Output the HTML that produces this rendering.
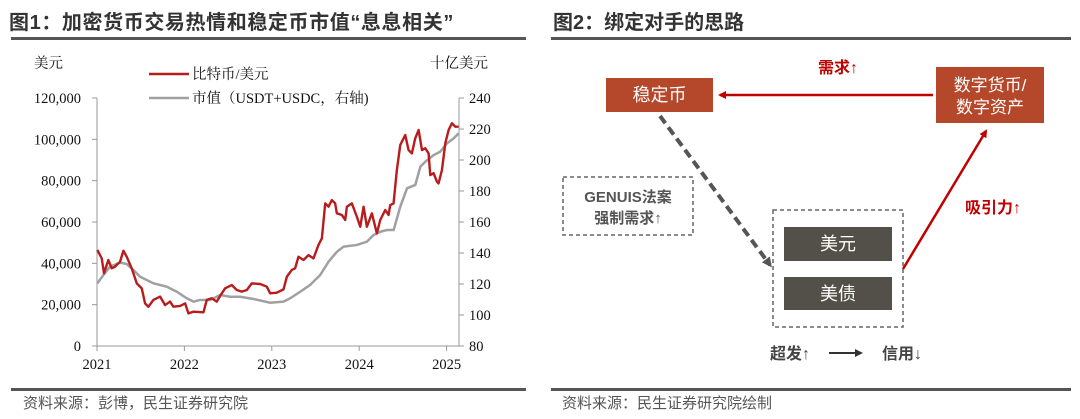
<!DOCTYPE html>
<html><head><meta charset="utf-8">
<style>
html,body{margin:0;padding:0;background:#fff;}
body{width:1080px;height:419px;position:relative;overflow:hidden;font-family:"Liberation Sans","Noto Sans CJK SC",sans-serif;}
.t{position:absolute;white-space:nowrap;}
.title{font-size:20px;font-weight:bold;color:#333;top:6px;}
.hr{position:absolute;height:3px;background:#555;}
.src{font-size:15px;color:#555;top:392px;}
</style></head>
<body>
<div class="t title" style="left:9px;letter-spacing:0.6px">图1：加密货币交易热情和稳定币市值“息息相关”</div>
<div class="t title" style="left:553px">图2：绑定对手的思路</div>
<div class="hr" style="left:11px;width:515px;top:37px"></div>
<div class="hr" style="left:551px;width:520px;top:37px"></div>
<div class="hr" style="left:11px;width:515px;top:388px"></div>
<div class="hr" style="left:551px;width:520px;top:388px"></div>
<div class="t src" style="left:23px">资料来源：彭博，民生证券研究院</div>
<div class="t src" style="left:562px">资料来源：民生证券研究院绘制</div>

<svg id="chart" width="540" height="419" style="position:absolute;left:0;top:0"></svg>

<svg width="1080" height="419" style="position:absolute;left:0;top:0">
<defs>
<marker id="ar" markerWidth="8" markerHeight="8" refX="6" refY="4" orient="auto" markerUnits="userSpaceOnUse"><path d="M0,0 L8,4 L0,8 z" fill="#c00000"/></marker>
<marker id="ag" markerWidth="10" markerHeight="10" refX="7" refY="5" orient="auto" markerUnits="userSpaceOnUse"><path d="M0,0 L10,5 L0,10 z" fill="#555"/></marker>
<marker id="ak" markerWidth="8" markerHeight="8" refX="6" refY="4" orient="auto" markerUnits="userSpaceOnUse"><path d="M0,0 L8,4 L0,8 z" fill="#333"/></marker>
</defs>
<line x1="933" y1="95" x2="720" y2="95" stroke="#c00000" stroke-width="2.5" marker-end="url(#ar)"/>
<line x1="660" y1="116" x2="770" y2="265" stroke="#555" stroke-width="4" stroke-dasharray="9,5" marker-end="url(#ag)"/>
<line x1="903" y1="269" x2="986" y2="131" stroke="#c00000" stroke-width="2.5" marker-end="url(#ar)"/>
<rect x="606" y="78" width="107" height="34" fill="#b5472a"/>
<text x="659.5" y="101" fill="#fff" font-size="18" text-anchor="middle" font-family="Liberation Sans, Noto Sans CJK SC, sans-serif">稳定币</text>
<rect x="936" y="67" width="108" height="56" fill="#b5472a"/>
<text x="990" y="91" fill="#fff" font-size="17" text-anchor="middle" font-family="Liberation Sans, Noto Sans CJK SC, sans-serif">数字货币/</text>
<text x="990" y="113" fill="#fff" font-size="17" text-anchor="middle" font-family="Liberation Sans, Noto Sans CJK SC, sans-serif">数字资产</text>
<text x="838" y="73" fill="#c00000" font-size="16" font-weight="bold" text-anchor="middle" font-family="Liberation Sans, Noto Sans CJK SC, sans-serif">需求↑</text>
<rect x="563" y="177" width="130" height="58" fill="none" stroke="#666" stroke-width="1.5" stroke-dasharray="4,3"/>
<text x="628" y="202" fill="#555" font-size="15" font-weight="bold" text-anchor="middle" font-family="Liberation Sans, Noto Sans CJK SC, sans-serif">GENUIS法案</text>
<text x="628" y="223" fill="#555" font-size="15" font-weight="bold" text-anchor="middle" font-family="Liberation Sans, Noto Sans CJK SC, sans-serif">强制需求↑</text>
<rect x="773" y="210" width="130" height="117" fill="none" stroke="#666" stroke-width="1.5" stroke-dasharray="4,3"/>
<rect x="784" y="227" width="108" height="34" fill="#525048"/>
<text x="838" y="250" fill="#fff" font-size="18" text-anchor="middle" font-family="Liberation Sans, Noto Sans CJK SC, sans-serif">美元</text>
<rect x="784" y="277" width="108" height="33" fill="#525048"/>
<text x="838" y="300" fill="#fff" font-size="18" text-anchor="middle" font-family="Liberation Sans, Noto Sans CJK SC, sans-serif">美债</text>
<text x="993" y="213" fill="#c00000" font-size="16" font-weight="bold" text-anchor="middle" font-family="Liberation Sans, Noto Sans CJK SC, sans-serif">吸引力↑</text>
<text x="790" y="359" fill="#444" font-size="16" font-weight="bold" text-anchor="middle" font-family="Liberation Sans, Noto Sans CJK SC, sans-serif">超发↑</text>
<line x1="829" y1="353" x2="861" y2="353" stroke="#333" stroke-width="2" marker-end="url(#ak)"/>
<text x="902" y="359" fill="#444" font-size="16" font-weight="bold" text-anchor="middle" font-family="Liberation Sans, Noto Sans CJK SC, sans-serif">信用↓</text>
</svg>

<script>
const btcDates=[2021.004,2021.054,2021.080,2021.130,2021.168,2021.206,2021.264,2021.302,2021.340,2021.397,2021.455,2021.512,2021.550,2021.588,2021.645,2021.722,2021.779,2021.836,2021.874,2021.951,2022.008,2022.046,2022.103,2022.218,2022.256,2022.313,2022.370,2022.428,2022.466,2022.542,2022.599,2022.657,2022.714,2022.771,2022.867,2022.943,2022.981,2023.057,2023.134,2023.172,2023.229,2023.267,2023.305,2023.363,2023.420,2023.477,2023.534,2023.573,2023.611,2023.649,2023.687,2023.725,2023.744,2023.802,2023.840,2023.859,2023.916,2023.973,2024.012,2024.050,2024.088,2024.145,2024.202,2024.241,2024.298,2024.336,2024.355,2024.393,2024.431,2024.470,2024.527,2024.565,2024.603,2024.641,2024.680,2024.718,2024.756,2024.794,2024.813,2024.851,2024.889,2024.908,2024.947,2024.985,2025.023,2025.061,2025.099,2025.137];
const btcValues=[46500,42400,35200,41600,37600,38400,40800,46100,43200,37600,30300,27900,20600,19000,22300,23900,19800,21500,19000,19400,20600,15800,16600,16300,22300,23100,21500,25500,27900,29500,27100,26300,27100,30300,30000,28700,25500,25800,27400,33500,36800,37600,43200,41600,44000,42400,48900,52100,69000,67400,70600,69000,64200,63400,61000,67400,69000,62600,57700,67400,57700,64200,54500,61000,65800,63400,68200,69000,85200,97300,102100,94800,93200,100500,104500,94800,95700,93200,82700,83600,79500,78700,85200,98100,104500,107800,106100,106100];
const capDates=[2021.004,2021.073,2021.149,2021.264,2021.340,2021.417,2021.493,2021.646,2021.798,2021.913,2022.027,2022.104,2022.180,2022.294,2022.409,2022.524,2022.638,2022.791,2022.982,2023.134,2023.210,2023.325,2023.439,2023.554,2023.649,2023.745,2023.821,2023.974,2024.088,2024.165,2024.241,2024.317,2024.394,2024.470,2024.547,2024.642,2024.700,2024.757,2024.852,2024.929,2025.005,2025.082,2025.137];
const capValues=[120.4,125.8,131.2,133.8,132.9,129.0,124.7,120.4,118.3,115.0,110.8,108.6,109.7,109.7,112.9,111.8,111.8,110.3,107.9,108.6,110.8,115.0,119.4,125.8,134.4,140.8,144.1,145.2,147.3,151.6,153.7,154.8,154.8,169.9,181.7,183.9,195.7,198.9,203.2,205.4,210.8,214.0,217.2];
const leftTicks=[0,20000,40000,60000,80000,100000,120000];
const rightTicks=[80,100,120,140,160,180,200,220,240];
const yearTicks=[2021,2022,2023,2024,2025];

const NS='http://www.w3.org/2000/svg';
const svg=document.getElementById('chart');
const X0=97,X1=459,Y0=346,Y1=98;
const xs=d=>X0+(d-2021)*87.4;
const yl=v=>Y0-(v/120000)*(Y0-Y1);
const yr=v=>Y0-((v-80)/160)*(Y0-Y1);
function mk(tag,attrs,txt){const e=document.createElementNS(NS,tag);for(const k in attrs)e.setAttribute(k,attrs[k]);if(txt!==undefined)e.textContent=txt;svg.appendChild(e);return e;}
const serif='Liberation Serif, Noto Serif CJK SC, serif';
let e;
e=mk('line',{x1:X0,y1:Y1,x2:X0,y2:Y0,stroke:'#999'});


e=mk('line',{x1:X1,y1:Y1,x2:X1,y2:Y0,stroke:'#999'});


e=mk('line',{x1:X0,y1:Y0,x2:X1,y2:Y0,stroke:'#999'});


leftTicks.forEach(v=>{const y=yl(v);
 mk('line',{x1:X0-5,y1:y,x2:X0,y2:y,stroke:'#999'});
 e=mk('text',{x:81,y:y+5,'text-anchor':'end','font-size':14.5,'font-family':serif,fill:'#111'},v.toLocaleString('en-US'));
 
 
});
rightTicks.forEach(v=>{const y=yr(v);
 mk('line',{x1:X1,y1:y,x2:X1+5,y2:y,stroke:'#999'});
 e=mk('text',{x:469,y:y+5,'font-size':14.5,'font-family':serif,fill:'#111'},String(v));
 
 
});
yearTicks.forEach(v=>{const x=xs(v);
 mk('line',{x1:x,y1:Y0,x2:x,y2:Y0+5,stroke:'#999'});
 e=mk('text',{x:x,y:369,'text-anchor':'middle','font-size':14.5,'font-family':serif,fill:'#111'},String(v));
 
 
});
e=mk('polyline',{points:capDates.map((d,i)=>xs(d)+','+yr(capValues[i])).join(' '),fill:'none',stroke:'#a0a0a0','stroke-width':2.5});


e=mk('polyline',{points:btcDates.map((d,i)=>xs(d)+','+yl(btcValues[i])).join(' '),fill:'none',stroke:'#b81c1c','stroke-width':2.4,'stroke-linejoin':'round'});


e=mk('text',{x:34,y:68,'font-size':14.5,'font-family':serif,fill:'#111'},'美元');


e=mk('text',{x:430,y:68,'font-size':14.5,'font-family':serif,fill:'#111'},'十亿美元');


mk('line',{x1:149,y1:74,x2:189,y2:74,stroke:'#b81c1c','stroke-width':2.5});
e=mk('text',{x:192,y:79,'font-size':14.5,'font-family':serif,fill:'#111'},'比特币/美元');


mk('line',{x1:149,y1:98,x2:189,y2:98,stroke:'#a0a0a0','stroke-width':2.5});
e=mk('text',{x:192,y:103,'font-size':14.5,'font-family':serif,fill:'#111'},'市值（USDT+USDC，右轴)');


</script>
</body></html>
